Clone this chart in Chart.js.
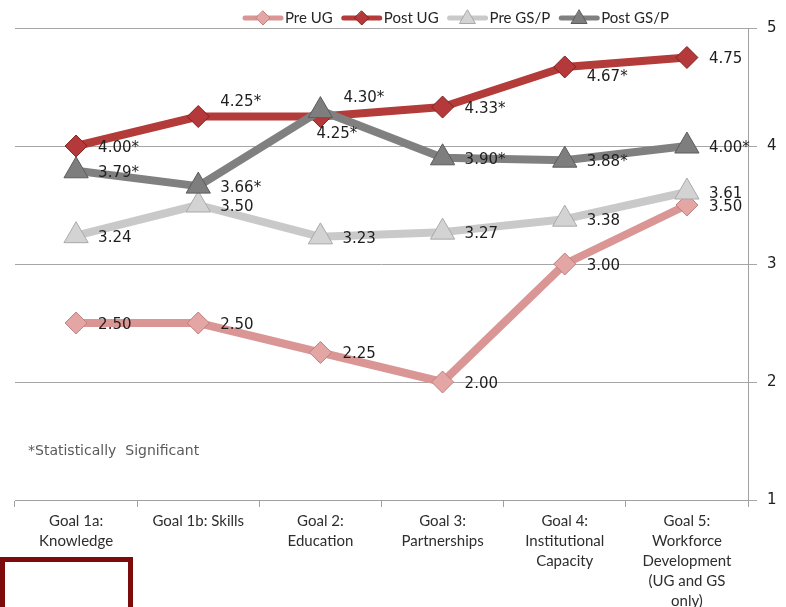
<!DOCTYPE html>
<html><head><meta charset="utf-8">
<script src="https://cdn.jsdelivr.net/npm/chart.js@4/dist/chart.umd.min.js"></script>
<style>
html,body{margin:0;padding:0;background:#fff;overflow:hidden;}
#wrap{position:relative;width:786px;height:607px;}
#box{position:absolute;left:0;top:557px;width:133px;height:60px;border:5px solid #7d0b0b;border-bottom:none;box-sizing:border-box;}
</style></head><body>
<div id="wrap"><canvas id="c" width="786" height="607"></canvas><div id="box"></div></div>
<script>
// ---- data ----
const categories = [
  ["Goal 1a:", "Knowledge"],
  ["Goal 1b: Skills"],
  ["Goal 2:", "Education"],
  ["Goal 3:", "Partnerships"],
  ["Goal 4:", "Institutional", "Capacity"],
  ["Goal 5:", "Workforce", "Development", "(UG and GS", "only)"]
];
const seriesNames = ["Pre UG", "Post UG", "Pre GS/P", "Post GS/P"];
const preUG   = [2.50, 2.50, 2.25, 2.00, 3.00, 3.50];
const postUG  = [4.00, 4.25, 4.25, 4.33, 4.67, 4.75];
const preGSP  = [3.24, 3.50, 3.23, 3.27, 3.38, 3.61];
const postGSP = [3.79, 3.66, 4.30, 3.90, 3.88, 4.00];
const sigPreUG   = [0, 0, 0, 0, 0, 0];
const sigPostUG  = [1, 1, 1, 1, 1, 0];
const sigPreGSP  = [0, 0, 0, 0, 0, 0];
const sigPostGSP = [1, 1, 1, 1, 1, 1];
const yTicks = [1, 2, 3, 4, 5];
const footnote = "*Statistically  Significant";

// ---- styles ----
const styles = [
  {line: "#d99694", fill: "#e4a6a4", edge: "#bf7f7d", shape: "rectRot", r: 11, lr: 7},
  {line: "#b33b39", fill: "#b5393a", edge: "#7f2220", shape: "rectRot", r: 11, lr: 7},
  {line: "#c9c9c9", fill: "#d3d3d3", edge: "#a9a9a9", shape: "triangle", r: 14, lr: 9},
  {line: "#808080", fill: "#7e7e7e", edge: "#5c5c5c", shape: "triangle", r: 14, lr: 9}
];
const seriesValues = [preUG, postUG, preGSP, postGSP];
const seriesSig = [sigPreUG, sigPostUG, sigPreGSP, sigPostGSP];
const drawOrder = [4, 3, 2, 1];

// label placement tweaks (dataset index -> point index -> offset)
const labelNudge = {1: {1: [22, -14], 2: [-4, 18], 4: [22, 10]}, 3: {2: [23, -12]}};

const datasets = seriesNames.map((name, i) => ({
  label: name,
  data: seriesValues[i],
  sig: seriesSig[i],
  borderColor: styles[i].line,
  backgroundColor: styles[i].fill,
  borderWidth: 8,
  tension: 0,
  borderJoinStyle: "round",
  pointStyle: styles[i].shape,
  pointRadius: styles[i].r,
  pointHoverRadius: styles[i].r,
  pointBackgroundColor: styles[i].fill,
  pointBorderColor: styles[i].edge,
  pointBorderWidth: 1,
  order: drawOrder[i]
}));

const extras = {
  id: "extras",
  afterDatasetsDraw(chart) {
    const ctx = chart.ctx;
    ctx.save();
    ctx.font = '15px "DejaVu Sans"';
    ctx.fillStyle = "#1e1e1e";
    ctx.textAlign = "left";
    ctx.textBaseline = "middle";
    chart.data.datasets.forEach((ds, di) => {
      const meta = chart.getDatasetMeta(di);
      meta.data.forEach((pt, pi) => {
        const v = ds.data[pi];
        const txt = v.toFixed(2) + (ds.sig[pi] ? "*" : "");
        const n = (labelNudge[di] && labelNudge[di][pi]) || [22, 2];
        ctx.fillText(txt, pt.x + n[0], pt.y + n[1]);
      });
    });
    // footnote
    ctx.font = '14px "DejaVu Sans"';
    ctx.fillStyle = "#5a5a5a";
    ctx.fillText(footnote, 28, 451);
    // legend
    ctx.font = '15px Lato';
    let x = 243;
    const y = 18;
    chart.data.datasets.forEach((ds, di) => {
      const st = styles[di];
      ctx.strokeStyle = st.line;
      ctx.lineWidth = 5;
      ctx.lineCap = "round";
      ctx.beginPath();
      ctx.moveTo(x + 2, y);
      ctx.lineTo(x + 38, y);
      ctx.stroke();
      ctx.fillStyle = st.fill;
      ctx.strokeStyle = st.edge;
      ctx.lineWidth = 1;
      ctx.beginPath();
      if (st.shape === "rectRot") {
        ctx.moveTo(x + 20, y - st.lr); ctx.lineTo(x + 20 + st.lr, y); ctx.lineTo(x + 20, y + st.lr); ctx.lineTo(x + 20 - st.lr, y);
      } else {
        ctx.moveTo(x + 20, y - st.lr + 1); ctx.lineTo(x + 20 + st.lr * 0.87, y + st.lr * 0.5 + 1); ctx.lineTo(x + 20 - st.lr * 0.87, y + st.lr * 0.5 + 1);
      }
      ctx.closePath(); ctx.fill(); ctx.stroke();
      ctx.fillStyle = "#262626";
      ctx.fillText(ds.label, x + 42, y);
      x += 42 + ctx.measureText(ds.label).width + 9;
    });
    ctx.restore();
  }
};

new Chart(document.getElementById("c"), {
  type: "line",
  data: {labels: categories, datasets},
  plugins: [extras],
  options: {
    responsive: false,
    animation: false,
    devicePixelRatio: 1,
    layout: {padding: {left: 14, top: 28, right: 0, bottom: 0}},
    plugins: {legend: {display: false}, tooltip: {enabled: false}},
    scales: {
      x: {
        offset: true,
        grid: {offset: true, drawOnChartArea: false, drawTicks: true, tickLength: 7, color: "#a0a0a0"},
        border: {display: true, color: "#a0a0a0"},
        ticks: {font: {family: "Lato", size: 15, lineHeight: 1.33}, color: "#2e2e2e", padding: 4, maxRotation: 0, autoSkip: false},
        afterFit(s) { s.height = 107; }
      },
      y: {
        position: "right",
        min: 1, max: 5,
        afterBuildTicks(s) { s.ticks = yTicks.map(v => ({value: v})); },
        grid: {color: "#a6a6a6", tickLength: 9},
        border: {display: true, color: "#a0a0a0"},
        ticks: {font: {family: "DejaVu Sans", size: 15}, color: "#222", padding: 10},
        afterFit(s) { s.width = 38; }
      }
    }
  }
});
</script>
</body></html>
